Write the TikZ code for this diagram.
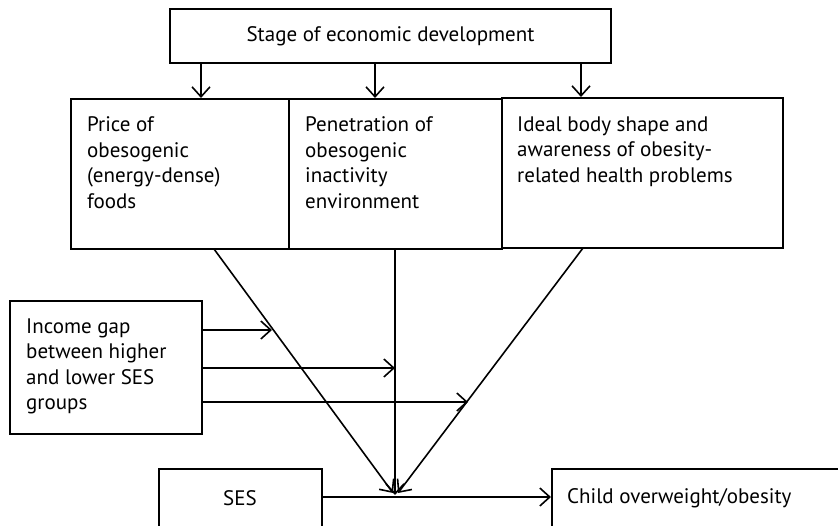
\documentclass[tikz,border=0pt]{standalone}
\usepackage{fontspec}
\setmainfont{PT Sans}
\usetikzlibrary{arrows.meta}
\begin{document}
\begin{tikzpicture}[x=1pt,y=-1pt,
  box/.style={draw,line width=2pt,inner sep=0pt},
  txt/.style={anchor=north west,align=left,inner sep=0pt,font=\fontsize{21}{25.5}\selectfont},
  arr/.style={line width=1.6pt,-{Straight Barb[length=10pt,width=18pt,line width=1.6pt]}}]
\clip (0,0) rectangle (838,525);
\fill[white] (0,0) rectangle (838,525);
% boxes
\node[box,minimum width=441pt,minimum height=54pt,font=\fontsize{21}{25}\selectfont] (stage) at (390.5,36) {Stage of economic development};
\node[box,minimum width=218pt,minimum height=150pt] (b1) at (180,174) {};
\node[box,minimum width=213pt,minimum height=150pt] (b2) at (395.5,174) {};
\node[box,minimum width=281pt,minimum height=150pt] (b3) at (642.5,173) {};
\node[box,minimum width=192pt,minimum height=133pt] (inc) at (106,367.5) {};
\node[box,minimum width=163pt,minimum height=80pt] (ses) at (240.5,509) {};
\node[box,minimum width=300pt,minimum height=80pt] (child) at (702,509) {};
% texts
\node[txt] (t1) at (87,116.5) {Price of\\obesogenic\\(energy-dense)\\foods};
\node[txt] (t2) at (305,116.5) {Penetration of\\obesogenic\\inactivity\\environment};
\node[txt] (t3) at (517,116.5) {Ideal body shape and\\awareness of obesity-\\related health problems};
\node[txt] (t4) at (26,318.5) {Income gap\\between higher\\and lower SES\\groups};
\node[txt,anchor=center] (t5) at (240,498) {SES};
\node[txt,anchor=west] (t6) at (567,498) {Child overweight/obesity};
% arrows from stage
\draw[arr] (201,0 |- stage.south) -- (201,0 |- b1.north);
\draw[arr] (375,0 |- stage.south) -- (375,0 |- b2.north);
\draw[arr] (581,0 |- stage.south) -- (581,0 |- b3.north);
% converging lines
\coordinate (p1) at (214,249);
\coordinate (p2) at (395,249);
\coordinate (p3) at (583,248);
\coordinate (c1) at (393,493);
\coordinate (c2) at (395,495);
\coordinate (c3) at (398,493);
\draw[arr] (p1) -- (c1);
\draw[arr] (p2) -- (c2);
\draw[arr] (p3) -- (c3);
% income arrows
\coordinate (m1) at (272,330);
\coordinate (m2) at (395,368);
\coordinate (m3) at (468,402);
\draw[arr] (inc.east |- m1) -- (m1);
\draw[arr] (inc.east |- m2) -- (m2);
\draw[arr] (inc.east |- m3) -- (m3);
% SES to child
\coordinate (s1) at (0,497);
\draw[arr] (ses.east |- s1) -- (child.west |- s1);
\end{tikzpicture}
\end{document}
